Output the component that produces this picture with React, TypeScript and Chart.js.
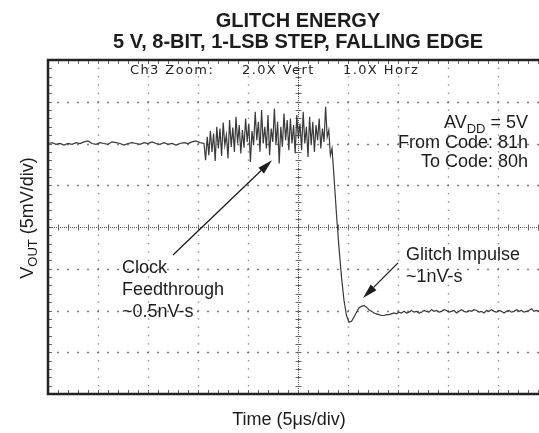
import React, { useEffect, useRef } from "react";
import { Chart, registerables } from "chart.js";

Chart.register(...registerables);

// ---- Data (time in µs, voltage in mV) ----
const X_MIN = 0;
const X_MAX = 49.1; // visible part of the 10-division (50 µs) screen
const Y_MIN = -20;
const Y_MAX = 20;
const TIME_PER_DIV = 5; // µs
const VOLT_PER_DIV = 5; // mV

// Quiet level before the clock feedthrough (0 .. 15.6 µs, 0.4 µs step)
const baselineStart = 0;
const baselineStep = 0.4;
const baselineValues = [
  10.0, 10.1, 9.9, 10.0, 9.8, 10.0, 9.9, 10.1, 10.0, 10.2, 10.3, 10.0, 9.9, 10.1,
  10.0, 9.9, 10.2, 10.1, 10.0, 9.8, 10.0, 10.1, 10.0, 9.9, 10.1, 10.0, 10.2, 10.0,
  9.9, 10.1, 9.9, 10.0, 9.8, 10.0, 10.1, 10.0, 10.2, 10.3, 10.1, 10.0,
];

// Clock feedthrough burst (15.76 .. 28.4 µs, 0.16 µs step)
const feedStart = 15.76;
const feedStep = 0.16;
const feedValues = [
  8.0, 10.8, 8.6, 11.5, 9.0, 11.2, 7.9, 12.0, 9.4, 11.8, 8.5, 12.5, 9.8, 11.0,
  8.2, 12.8, 9.6, 11.9, 9.0, 13.2, 10.0, 12.2, 8.8, 11.6, 9.5, 13.0, 10.2, 12.4,
  7.8, 11.5, 9.8, 13.8, 10.4, 12.6, 9.0, 14.0, 10.0, 12.0, 9.4, 13.4, 8.6, 11.8,
  10.2, 14.2, 9.8, 12.6, 7.6, 12.0, 9.6, 13.6, 10.4, 12.8, 9.2, 13.0, 10.0, 12.2,
  8.8, 13.4, 10.6, 12.4, 9.2, 13.8, 10.0, 12.0, 8.4, 13.2, 9.8, 12.6, 9.0, 12.2,
  10.4, 13.0, 9.4, 11.8, 10.2, 14.4, 10.8, 11.6, 8.6, 9.4,
];

// Falling edge, glitch and settled level (28.6 .. 49.1 µs, 0.25 µs step)
const settleStart = 28.6;
const settleStep = 0.25;
const settleValues = [
  6.0, 1.5, -2.5, -6.0, -8.8, -10.6, -11.4, -11.3, -10.8, -10.2, -9.7, -9.5, -9.4,
  -9.6, -9.9, -10.1, -10.3, -10.4, -10.5, -10.6, -10.6, -10.5, -10.5, -10.4,
  -10.3, -10.4, -10.2, -10.3, -10.1, -10.3, -10.2, -10.0, -10.2, -10.1, -10.3,
  -10.2, -10.0, -10.1, -10.2, -9.9, -10.1, -10.0, -10.2, -10.1, -9.9, -10.0,
  -10.2, -10.1, -10.0, -10.3, -10.1, -9.9, -10.1, -10.2, -10.0, -10.1, -9.9,
  -10.0, -10.2, -10.1, -10.3, -10.0, -10.1, -9.9, -10.1, -10.2, -10.0, -10.1,
  -10.3, -10.1, -10.0, -10.2, -10.1, -9.9, -10.1, -10.0, -10.2, -10.1, -10.0,
  -9.8, -10.1, -10.0, -10.1,
];

const titleLines = ["GLITCH ENERGY", "5 V, 8-BIT, 1-LSB STEP, FALLING EDGE"];
const xTitle = "Time (5\u03bcs/div)";
const scopeHeader = ["Ch3 Zoom:", "2.0X Vert", "1.0X Horz"];
const infoLines = ["From Code: 81h", "To Code: 80h"];
const clockNote = ["Clock", "Feedthrough", "~0.5nV-s"];
const glitchNote = ["Glitch Impulse", "~1nV-s"];

function segment(start: number, step: number, values: number[]) {
  return values.map((v, i) => ({ x: +(start + i * step).toFixed(3), y: v }));
}

const SANS = "'Liberation Sans', Arial, Helvetica, sans-serif";
const INK = "#1c1c1c";

function arrow(ctx: CanvasRenderingContext2D, x0: number, y0: number, x1: number, y1: number) {
  const ang = Math.atan2(y1 - y0, x1 - x0);
  const L = 15;
  const W = 4;
  const bx = x1 - L * Math.cos(ang);
  const by = y1 - L * Math.sin(ang);
  ctx.strokeStyle = INK;
  ctx.lineWidth = 1.3;
  ctx.beginPath();
  ctx.moveTo(x0, y0);
  ctx.lineTo(bx, by);
  ctx.stroke();
  ctx.fillStyle = INK;
  ctx.beginPath();
  ctx.moveTo(x1, y1);
  ctx.lineTo(bx + W * Math.sin(ang), by - W * Math.cos(ang));
  ctx.lineTo(bx - W * Math.sin(ang), by + W * Math.cos(ang));
  ctx.closePath();
  ctx.fill();
}

const scopePlugin = {
  id: "scopeGrid",
  beforeDatasetsDraw(chart: any) {
    const { ctx, chartArea: a, scales } = chart;
    const xs = scales.x;
    const ys = scales.y;
    ctx.save();
    // dotted division lines
    for (let d = 1; d < 10; d++) {
      const t = d * TIME_PER_DIV;
      if (d === 5) continue;
      const px = Math.round(xs.getPixelForValue(t)) + 0.5;
      if (px > a.right) continue;
      ctx.fillStyle = "#8a8a8a";
      for (let m = Y_MIN; m <= Y_MAX; m += VOLT_PER_DIV / 5) {
        const py = ys.getPixelForValue(m);
        ctx.fillRect(px - 0.7, py - 0.7, 1.4, 1.4);
      }
    }
    for (let k = -3; k <= 3; k++) {
      if (k === 0) continue;
      const py = Math.round(ys.getPixelForValue(k * VOLT_PER_DIV)) + 0.5;
      ctx.fillStyle = "#555";
      for (let t = 0; t <= 50; t += TIME_PER_DIV / 5) {
        const px = xs.getPixelForValue(t);
        if (px > a.right) continue;
        ctx.fillRect(px - 0.75, py - 0.75, 1.5, 1.5);
      }
    }
    // centre cross-hair
    const cx = Math.round(xs.getPixelForValue(25)) + 0.5;
    const cy = Math.round(ys.getPixelForValue(0)) + 0.5;
    ctx.strokeStyle = "#555";
    ctx.lineWidth = 1;
    ctx.setLineDash([1, 1]);
    ctx.beginPath();
    ctx.moveTo(a.left, cy);
    ctx.lineTo(a.right, cy);
    ctx.moveTo(cx, a.top);
    ctx.lineTo(cx, a.bottom);
    ctx.stroke();
    ctx.setLineDash([]);
    ctx.strokeStyle = "#666";
    ctx.beginPath();
    for (let t = 0; t <= 50; t += TIME_PER_DIV / 5) {
      const px = Math.round(xs.getPixelForValue(t)) + 0.5;
      if (px > a.right) continue;
      ctx.moveTo(px, cy - 3);
      ctx.lineTo(px, cy + 3);
      // border ticks top/bottom
      ctx.moveTo(px, a.top);
      ctx.lineTo(px, a.top + 4);
      ctx.moveTo(px, a.bottom);
      ctx.lineTo(px, a.bottom - 4);
    }
    for (let m = Y_MIN; m <= Y_MAX; m += VOLT_PER_DIV / 5) {
      const py = Math.round(ys.getPixelForValue(m)) + 0.5;
      ctx.moveTo(cx - 3, py);
      ctx.lineTo(cx + 3, py);
      ctx.moveTo(a.left, py);
      ctx.lineTo(a.left + 4, py);
    }
    ctx.stroke();
    ctx.restore();
  },
  afterDatasetsDraw(chart: any) {
    const { ctx, chartArea: a, scales } = chart;
    const xs = scales.x;
    const ys = scales.y;
    ctx.save();
    // frame: left, top, bottom (right side is cut off)
    ctx.strokeStyle = "#222";
    ctx.lineWidth = 2.5;
    ctx.beginPath();
    ctx.moveTo(a.right + 2, a.top);
    ctx.lineTo(a.left, a.top);
    ctx.lineTo(a.left, a.bottom);
    ctx.lineTo(a.right + 2, a.bottom);
    ctx.stroke();

    const midX = xs.getPixelForValue(25);

    // title
    ctx.fillStyle = INK;
    ctx.textAlign = "center";
    ctx.textBaseline = "alphabetic";
    ctx.font = `bold 20px ${SANS}`;
    ctx.fillText(titleLines[0], midX, 27);
    ctx.fillText(titleLines[1], midX, 48);

    // scope header
    ctx.textAlign = "left";
    ctx.font = `13px 'DejaVu Sans', Verdana, sans-serif`;
    (ctx as any).letterSpacing = "1.4px";
    ctx.fillStyle = "#222";
    ctx.fillText(scopeHeader[0], 130, 74);
    ctx.fillText(scopeHeader[1], 242, 74);
    ctx.fillText(scopeHeader[2], 343, 74);
    (ctx as any).letterSpacing = "0px";

    // AVDD info block (right aligned)
    ctx.fillStyle = INK;
    const big = `18px ${SANS}`;
    const sub = `13px ${SANS}`;
    const rightX = 528;
    ctx.font = big;
    const wAV = ctx.measureText("AV").width;
    const wEq = ctx.measureText(" = 5V").width;
    ctx.font = sub;
    const wDD = ctx.measureText("DD").width;
    let sx = rightX - (wAV + wDD + wEq);
    ctx.textAlign = "left";
    ctx.font = big;
    ctx.fillText("AV", sx, 128);
    ctx.font = sub;
    ctx.fillText("DD", sx + wAV, 133);
    ctx.font = big;
    ctx.fillText(" = 5V", sx + wAV + wDD, 128);
    ctx.textAlign = "right";
    ctx.fillText(infoLines[0], rightX, 148);
    ctx.fillText(infoLines[1], rightX, 167);

    // annotations
    ctx.textAlign = "left";
    ctx.fillText(clockNote[0], 122, 273);
    ctx.fillText(clockNote[1], 122, 295);
    ctx.fillText(clockNote[2], 122, 317);
    ctx.fillText(glitchNote[0], 406, 260);
    ctx.fillText(glitchNote[1], 406, 282);

    arrow(ctx, xs.getPixelForValue(12.5), ys.getPixelForValue(-3.35), xs.getPixelForValue(22.4), ys.getPixelForValue(8.0));
    arrow(ctx, xs.getPixelForValue(35.0), ys.getPixelForValue(-4.3), xs.getPixelForValue(31.5), ys.getPixelForValue(-8.5));

    // axis titles
    ctx.textAlign = "center";
    ctx.font = big;
    ctx.fillText(xTitle, 289, 425);

    ctx.translate(33, 218);
    ctx.rotate(-Math.PI / 2);
    ctx.font = big;
    const wV = ctx.measureText("V").width;
    ctx.font = sub;
    const wOut = ctx.measureText("OUT").width;
    ctx.font = big;
    const wRest = ctx.measureText(" (5mV/div)").width;
    const total = wV + wOut + wRest;
    let ox = -total / 2;
    ctx.textAlign = "left";
    ctx.fillText("V", ox, 0);
    ctx.font = sub;
    ctx.fillText("OUT", ox + wV, 4);
    ctx.font = big;
    ctx.fillText(" (5mV/div)", ox + wV + wOut, 0);
    ctx.restore();
  },
};

export default function App() {
  const ref = useRef<HTMLCanvasElement | null>(null);
  useEffect(() => {
    if (!ref.current) return;
    const points = [
      ...segment(baselineStart, baselineStep, baselineValues),
      ...segment(feedStart, feedStep, feedValues),
      ...segment(settleStart, settleStep, settleValues),
    ];
    const chart = new Chart(ref.current, {
      type: "line",
      data: {
        datasets: [
          {
            data: points,
            borderColor: "#3a3a3a",
            borderWidth: 1.2,
            pointRadius: 0,
            tension: 0,
            fill: false,
          },
        ],
      },
      options: {
        responsive: false,
        animation: false,
        devicePixelRatio: 1,
        layout: { padding: { left: 48, right: 0, top: 60, bottom: 39 } },
        scales: {
          x: { type: "linear", min: X_MIN, max: X_MAX, display: false },
          y: { type: "linear", min: Y_MIN, max: Y_MAX, display: false },
        },
        plugins: { legend: { display: false }, tooltip: { enabled: false }, title: { display: false } },
      },
      plugins: [scopePlugin],
    } as any);
    return () => chart.destroy();
  }, []);
  return (
    <div style={{ position: "fixed", left: 0, top: 0, width: 539, height: 433, background: "#fff", overflow: "hidden" }}>
      <canvas ref={ref} width={539} height={433} style={{ display: "block", width: 539, height: 433 }} />
    </div>
  );
}
